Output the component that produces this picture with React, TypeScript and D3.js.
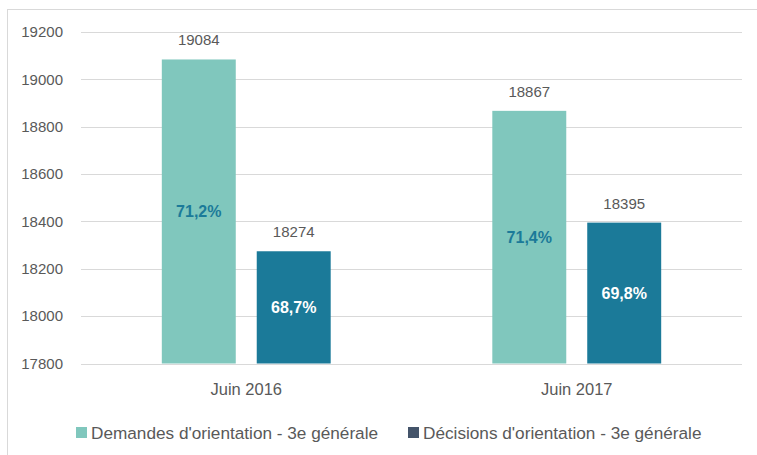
import React, { useEffect, useRef } from 'react';
import * as d3 from 'd3';

const periods = ['Juin 2016', 'Juin 2017'];
const seriesNames = [
  "Demandes d'orientation - 3e générale",
  "Décisions d'orientation - 3e générale",
];
const demandes = [19084, 18867];
const decisions = [18274, 18395];
const demandesPct = ['71,2%', '71,4%'];
const decisionsPct = ['68,7%', '69,8%'];
const yTicks = [17800, 18000, 18200, 18400, 18600, 18800, 19000, 19200];

const W = 757;
const H = 455;
const FONT = '"Liberation Sans", Arial, sans-serif';

const App: React.FC = () => {
  const ref = useRef<SVGSVGElement>(null);

  useEffect(() => {
    if (!ref.current) return;
    const svg = d3.select(ref.current);
    svg.selectAll('*').remove();

    const left = 81;
    const right = 742;
    const top = 32;
    const bottom = 363.5;

    const y = d3.scaleLinear().domain([17800, 19200]).range([bottom, top]);
    const x0 = d3
      .scaleBand()
      .domain(periods)
      .range([left, right])
      .paddingInner(0.489)
      .paddingOuter(0.489 / 2);
    const x1 = d3
      .scaleBand()
      .domain(['d', 'c'])
      .range([0, x0.bandwidth()])
      .paddingInner(0.221);

    const colors = ['#80c7bd', '#1b7a99'];
    const legendColors = ['#80c7bd', '#44546a'];

    // frame
    svg
      .append('rect')
      .attr('x', 7.5)
      .attr('y', 9.5)
      .attr('width', 800)
      .attr('height', 500)
      .attr('fill', 'white')
      .attr('stroke', '#d9d9d9');

    // grid
    svg
      .append('g')
      .selectAll('line')
      .data(yTicks)
      .join('line')
      .attr('x1', left)
      .attr('x2', right)
      .attr('y1', (d) => Math.round(y(d)) + 0.5)
      .attr('y2', (d) => Math.round(y(d)) + 0.5)
      .attr('stroke', '#d9d9d9')
      .attr('stroke-width', 1);

    svg
      .append('g')
      .attr('font-family', FONT)
      .attr('font-size', 15)
      .attr('fill', '#595959')
      .attr('text-anchor', 'end')
      .selectAll('text')
      .data(yTicks)
      .join('text')
      .attr('x', 63)
      .attr('y', (d) => y(d))
      .attr('dy', '0.35em')
      .text((d) => String(d));

    const rows = periods.map((p, i) => ({
      p,
      vals: [
        { k: 'd', v: demandes[i], pct: demandesPct[i] },
        { k: 'c', v: decisions[i], pct: decisionsPct[i] },
      ],
    }));

    const groups = svg
      .append('g')
      .selectAll('g')
      .data(rows)
      .join('g')
      .attr('transform', (d) => `translate(${x0(d.p)},0)`);

    groups
      .selectAll('rect')
      .data((d) => d.vals)
      .join('rect')
      .attr('x', (d) => x1(d.k)!)
      .attr('width', x1.bandwidth())
      .attr('y', (d) => y(d.v))
      .attr('height', (d) => bottom - y(d.v))
      .attr('fill', (d, i) => colors[i]);

    groups
      .selectAll('text.val')
      .data((d) => d.vals)
      .join('text')
      .attr('class', 'val')
      .attr('x', (d) => x1(d.k)! + x1.bandwidth() / 2)
      .attr('y', (d) => y(d.v) - 14)
      .attr('text-anchor', 'middle')
      .attr('font-family', FONT)
      .attr('font-size', 15)
      .attr('fill', '#595959')
      .text((d) => String(d.v));

    groups
      .selectAll('text.pct')
      .data((d) => d.vals)
      .join('text')
      .attr('class', 'pct')
      .attr('x', (d) => x1(d.k)! + x1.bandwidth() / 2)
      .attr('y', (d) => (y(d.v) + bottom) / 2)
      .attr('dy', '0.35em')
      .attr('text-anchor', 'middle')
      .attr('font-family', FONT)
      .attr('font-size', 16)
      .attr('font-weight', 'bold')
      .attr('fill', (d, i) => (i === 0 ? '#1b7a99' : '#ffffff'))
      .text((d) => d.pct);

    // x labels
    svg
      .append('g')
      .selectAll('text')
      .data(periods)
      .join('text')
      .attr('x', (d) => x0(d)! + x0.bandwidth() / 2)
      .attr('y', 395)
      .attr('text-anchor', 'middle')
      .attr('font-family', FONT)
      .attr('font-size', 16.5)
      .attr('fill', '#595959')
      .text((d) => d);

    // legend
    const legendX = [76, 408];
    const lg = svg
      .append('g')
      .selectAll('g')
      .data(seriesNames)
      .join('g')
      .attr('transform', (d, i) => `translate(${legendX[i]},0)`);
    lg.append('rect')
      .attr('x', 0)
      .attr('y', 427)
      .attr('width', 11)
      .attr('height', 11)
      .attr('fill', (d, i) => legendColors[i]);
    lg.append('text')
      .attr('x', 15)
      .attr('y', 438.5)
      .attr('font-family', FONT)
      .attr('font-size', 17.2)
      .attr('fill', '#595959')
      .text((d) => d);
  }, []);

  return (
    <svg
      ref={ref}
      width={W}
      height={H}
      style={{ position: 'absolute', left: 0, top: 0, background: 'white' }}
    />
  );
};

export default App;
